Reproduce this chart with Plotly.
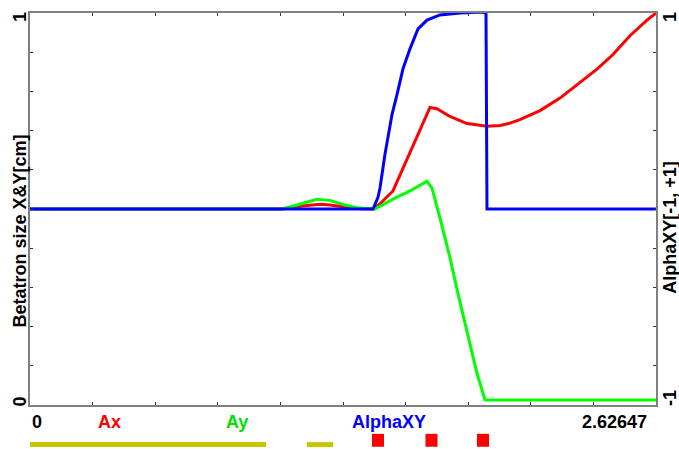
import plotly.graph_objects as go

XMAX = 2.62647

# Ax (left axis, Betatron size)
ax_x = [0.0, 1.0489, 1.0909, 1.1328, 1.2167, 1.2587, 1.3216, 1.3720, 1.4391, 1.4685, 1.5230,
        1.5650, 1.6069, 1.6447, 1.6782, 1.7076, 1.7621, 1.8335, 1.9174, 1.9719, 2.0139, 2.0558,
        2.1398, 2.2237, 2.3076, 2.3789, 2.4460, 2.5173, 2.5887, 2.6265]
ax_y = [0.5, 0.5, 0.503, 0.507, 0.512, 0.510, 0.505, 0.501, 0.5, 0.513, 0.546,
        0.604, 0.665, 0.716, 0.759, 0.756, 0.736, 0.718, 0.711, 0.713, 0.719, 0.728,
        0.751, 0.783, 0.823, 0.857, 0.894, 0.942, 0.982, 1.0]

# Ay (left axis)
ay_x = [0.0, 1.0615, 1.0909, 1.1328, 1.2041, 1.2587, 1.3216, 1.3720, 1.4475, 1.5230,
        1.5943, 1.6657, 1.6866, 1.7202, 1.7621, 1.7957, 1.8335, 1.8754, 1.9090, 2.6265]
ay_y = [0.5, 0.5, 0.505, 0.513, 0.525, 0.522, 0.510, 0.503, 0.5, 0.525,
        0.546, 0.571, 0.553, 0.477, 0.376, 0.284, 0.190, 0.081, 0.013, 0.013]

# AlphaXY (right axis, -1..1)
al_x = [0.0, 1.4391, 1.4600, 1.4685, 1.4894, 1.5188, 1.5398, 1.5650, 1.5943, 1.6279, 1.6657,
        1.7202, 1.8041, 1.8964, 1.9132, 1.9174, 2.6265]
al_y = [0.0, 0.0, 0.06, 0.107, 0.279, 0.482, 0.584, 0.716, 0.817, 0.919, 0.964,
        0.990, 1.0, 1.005, 1.0, 0.0, 0.0]

# lattice elements
dipole_start = [0.0, 1.1622]
dipole_end = [0.9902, 1.2713]
quad_center = [1.4600, 1.6845, 1.9006]
quad_halfwidth = 0.0252

fig = go.Figure()
fig.add_trace(go.Scatter(x=ax_x, y=ax_y, mode="lines", line=dict(color="#ff0000", width=3),
                         yaxis="y", showlegend=False, name="Ax"))
fig.add_trace(go.Scatter(x=ay_x, y=ay_y, mode="lines", line=dict(color="#00ff00", width=3),
                         yaxis="y", showlegend=False, name="Ay"))
fig.add_trace(go.Scatter(x=al_x, y=al_y, mode="lines", line=dict(color="#0000ff", width=3),
                         yaxis="y2", showlegend=False, name="AlphaXY"))

shapes = []
for s, e in zip(dipole_start, dipole_end):
    shapes.append(dict(type="rect", xref="x", yref="paper", x0=s, x1=e, y0=-0.1074, y1=-0.0947,
                       fillcolor="#c8c400", line=dict(width=0), layer="above"))
for c in quad_center:
    shapes.append(dict(type="rect", xref="x", yref="paper", x0=c - quad_halfwidth, x1=c + quad_halfwidth,
                       y0=-0.1066, y1=-0.0736, fillcolor="#ff0000", line=dict(width=0), layer="above"))

FONT = "Liberation Sans, Arial, sans-serif"
fs = 18
def txt(text, x, y, color="black", xref="x", yref="paper", xanchor="center", yanchor="middle", angle=0):
    return dict(text=text, x=x, y=y, xref=xref, yref=yref, xanchor=xanchor, yanchor=yanchor,
                showarrow=False, textangle=angle,
                font=dict(family=FONT, size=fs, color=color, weight="bold"))

ybot = -0.0431
annotations = [
    txt("0", 0.0, ybot, xanchor="left"),
    txt("Ax", 0.3356, ybot, color="#ff0000"),
    txt("Ay", 0.8685, ybot, color="#00e000"),
    txt("AlphaXY", 1.5083, ybot, color="#0000ff"),
    txt("2.62647", 2.5970, ybot, xanchor="right"),
    txt("Betatron size X&Y[cm]", -0.016, 0.445, xref="paper", angle=-90),
    txt("AlphaXY[-1, +1]", 1.0224, 0.452, xref="paper", angle=-90),
    txt("1", -0.016, 0.99, xref="paper", angle=-90),
    txt("0", -0.016, 0.009, xref="paper", angle=-90),
    txt("1", 1.0224, 0.99, xref="paper", angle=-90),
    txt("-1", 1.0224, 0.018, xref="paper", angle=-90),
]

tick_common = dict(ticks="inside", ticklen=3, tickwidth=1, tickcolor="#333333",
                   showline=True, linecolor="#808080", linewidth=2, showgrid=False,
                   zeroline=False, showticklabels=False)

fig.update_layout(
    width=679, height=449,
    margin=dict(l=30, r=23, t=11, b=44),
    plot_bgcolor="white", paper_bgcolor="white",
    xaxis=dict(range=[0, XMAX], tickvals=[XMAX * i / 10 for i in range(11)], mirror="ticks", **tick_common),
    yaxis=dict(range=[0, 1], tickvals=[i / 10 for i in range(11)], mirror="ticks", **tick_common),
    yaxis2=dict(range=[-1, 1], tickvals=[-1 + i / 5 for i in range(11)], overlaying="y", side="right",
                **tick_common),
    shapes=shapes,
    annotations=annotations,
)

fig.write_html("out.html")
